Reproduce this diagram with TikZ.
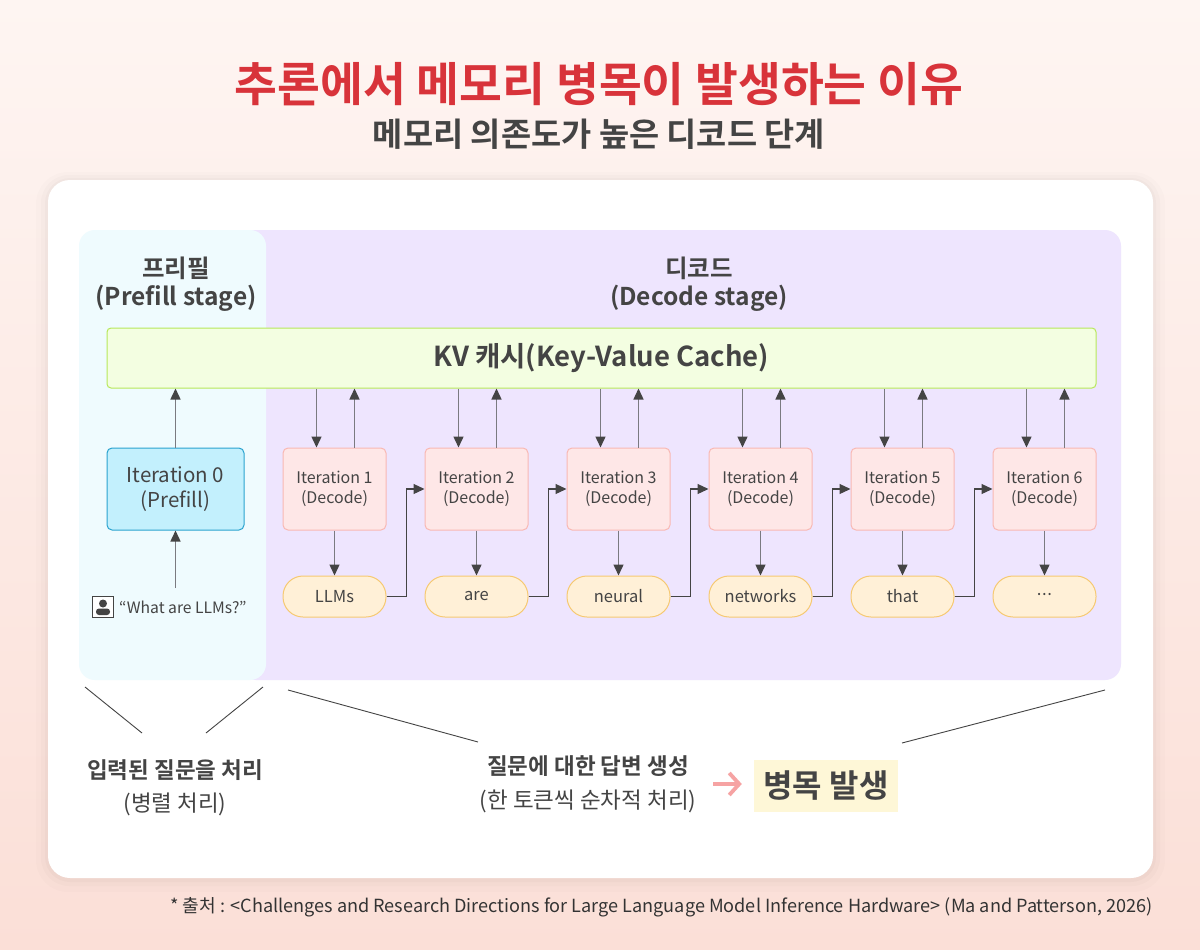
\documentclass[tikz,border=0pt]{standalone}
\usepackage{fontspec}
\setmainfont{Noto Sans CJK KR}[BoldFont={Noto Sans CJK KR Bold}]
\usepackage{tikz}
\usetikzlibrary{calc}
\usetikzlibrary{arrows.meta}
\usetikzlibrary{positioning}
\definecolor{bgtop}{HTML}{FEF5F2}
\definecolor{bgbottom}{HTML}{FBDFD7}
\definecolor{titlered}{HTML}{D8333A}
\definecolor{textdark}{HTML}{444444}
\definecolor{prefillfill}{HTML}{EFFBFE}
\definecolor{decodefill}{HTML}{EEE5FE}
\definecolor{kvfill}{HTML}{F3FEE1}
\definecolor{kvline}{HTML}{B7E85A}
\definecolor{iterzerofill}{HTML}{C3F0FD}
\definecolor{iterzeroline}{HTML}{2AA3CF}
\definecolor{iterfill}{HTML}{FEE7E7}
\definecolor{iterline}{HTML}{F9B8B3}
\definecolor{tokfill}{HTML}{FFF0D7}
\definecolor{tokline}{HTML}{F6C972}
\definecolor{arrowline}{HTML}{7A7A80}
\definecolor{arrowhead}{HTML}{444444}
\definecolor{bottlefill}{HTML}{FEF7D7}
\definecolor{pinkarrow}{HTML}{F6A3A3}

\begin{document}
\begin{tikzpicture}[
x=1pt,y=-1pt,
Heading/.style={text=textdark,align=center,font=\bfseries\fontsize{24.5}{28}\selectfont},
IterBox/.style={draw=iterline,fill=iterfill,line width=1pt,rounded corners=5pt,minimum width=103pt,minimum height=82pt,align=center,text=textdark,font=\fontsize{16}{20}\selectfont},
TokenPill/.style={draw=tokline,fill=tokfill,line width=1pt,rounded corners=20pt,minimum width=103pt,minimum height=41pt,text=textdark,font=\fontsize{16.5}{20}\selectfont},
Arrow/.style={draw=arrowline,line width=1.4pt,-{Triangle[length=11pt,width=10pt,color=arrowhead]}},
Link/.style={draw=arrowhead,line width=1.2pt,-{Triangle[length=11pt,width=10pt,color=arrowhead]}},
Brace/.style={draw=textdark,line width=0.9pt},
Note/.style={text=textdark,font=\fontsize{22.5}{26}\selectfont}
]
\useasboundingbox (0,0) rectangle (1200,950);
\shade[top color=bgtop,bottom color=bgbottom] (0,0) rectangle (1200,950);

% card and panels
\fill[black,opacity=0.012,rounded corners=32pt] (36,172) rectangle (1165,892);
\fill[black,opacity=0.015,rounded corners=28pt] (41,175) rectangle (1160,886);
\fill[black,opacity=0.018,rounded corners=25pt] (45,178) rectangle (1156,882);
\fill[white,rounded corners=22pt] (48,180) rectangle (1153,878);
\fill[decodefill,rounded corners=16pt] (240,230) rectangle (1121,680);
\fill[prefillfill,rounded corners=16pt] (79,230) rectangle (266,680);

\node[text=titlered,font=\bfseries\fontsize{46.6}{50}\selectfont] (Title) at (599,84) {추론에서 메모리 병목이 발생하는 이유};
\node[text=textdark,font=\bfseries\fontsize{32.8}{36}\selectfont] (Subtitle) at (599,134) {메모리 의존도가 높은 디코드 단계};

\node[Heading] (PrefillHead) at (176,284) {프리필\\(Prefill stage)};
\node[Heading] (DecodeHead) at (699,284) {디코드\\(Decode stage)};

\node[draw=kvline,fill=kvfill,line width=1pt,rounded corners=4pt,minimum width=989pt,minimum height=60pt,text=textdark,font=\bfseries\fontsize{27.5}{30}\selectfont] (KV) at (601.5,358) {KV 캐시(Key-Value Cache)};

\node[draw=iterzeroline,fill=iterzerofill,line width=1pt,rounded corners=5pt,minimum width=137pt,minimum height=82pt,align=center,text=textdark,font=\fontsize{20.5}{25}\selectfont] (Iter0) at (175.5,489) {Iteration 0\\(Prefill)};

\node[draw=textdark,fill=white,line width=1pt,minimum size=21pt,inner sep=0pt] (User) at (103,607) {};
\fill[textdark] ($(User.center)+(0,-3.5)$) circle (4);
\fill[textdark,rounded corners=3pt] ($(User.center)+(-7,8)$) rectangle ($(User.center)+(7,1.5)$);
\node[right=4pt of User,inner sep=1pt,text=textdark,font=\fontsize{15.7}{18}\selectfont] (Question) {“What are LLMs?”};
\coordinate (QTop) at (175.5,588);

\draw[Arrow] (QTop) -- (Iter0.south);
\draw[Arrow] (Iter0.north) -- (Iter0.north |- KV.south);

\foreach \k/\w in {1/LLMs,2/are,3/neural,4/networks,5/that,6/{·\kern-4pt·\kern-4pt·}}{
  \node[IterBox] (Iter\k) at (334.5+142*\k-142,489) {Iteration \k\\(Decode)};
  \node[TokenPill] (Tok\k) at (334.5+142*\k-142,596.5) {\w};
  \draw[Arrow] ([xshift=-18pt]Iter\k.north |- KV.south) -- ([xshift=-18pt]Iter\k.north);
  \draw[Arrow] ([xshift=20pt]Iter\k.north) -- ([xshift=20pt]Iter\k.north |- KV.south);
  \draw[Arrow] (Iter\k.south) -- (Tok\k.north);
}
\foreach \k in {1,...,5}{
  \pgfmathtruncatemacro\n{\k+1}
  \draw[Link] (Tok\k.east) -- ++(20,0) |- (Iter\n.west);
}

% notes below
\draw[Brace] (85,687) -- (142,733);
\draw[Brace] (263,687) -- (206,733);
\draw[Brace] (288,690) -- (478,742);
\draw[Brace] (1105,690) -- (902,743);

\node[Note,font=\bfseries\fontsize{22.5}{26}\selectfont] (PrefillNote) at (175,770) {입력된 질문을 처리};
\node[Note] (PrefillSub) at (175,804) {(병렬 처리)};
\node[Note,font=\bfseries\fontsize{22.5}{26}\selectfont] (DecodeNote) at (588,766) {질문에 대한 답변 생성};
\node[Note] (DecodeSub) at (588,801) {(한 토큰씩 순차적 처리)};
\node[fill=bottlefill,minimum width=144pt,minimum height=52pt,text=textdark,font=\bfseries\fontsize{32}{36}\selectfont] (Bottleneck) at (826,786) {병목 발생};
\coordinate (PinkStart) at (713,784);
\draw[draw=pinkarrow,line width=3.8pt,-{Straight Barb[length=10pt,width=22pt]}] (PinkStart) -- ([xshift=-12pt]Bottleneck.west |- PinkStart);

\node[anchor=east,inner sep=0pt,text=black!80,font=\fontsize{18.1}{20}\selectfont] (Source) at (1153,907) {* 출처 : <Challenges and Research Directions for Large Language Model Inference Hardware> (Ma and Patterson, 2026)};
\end{tikzpicture}
\end{document}
